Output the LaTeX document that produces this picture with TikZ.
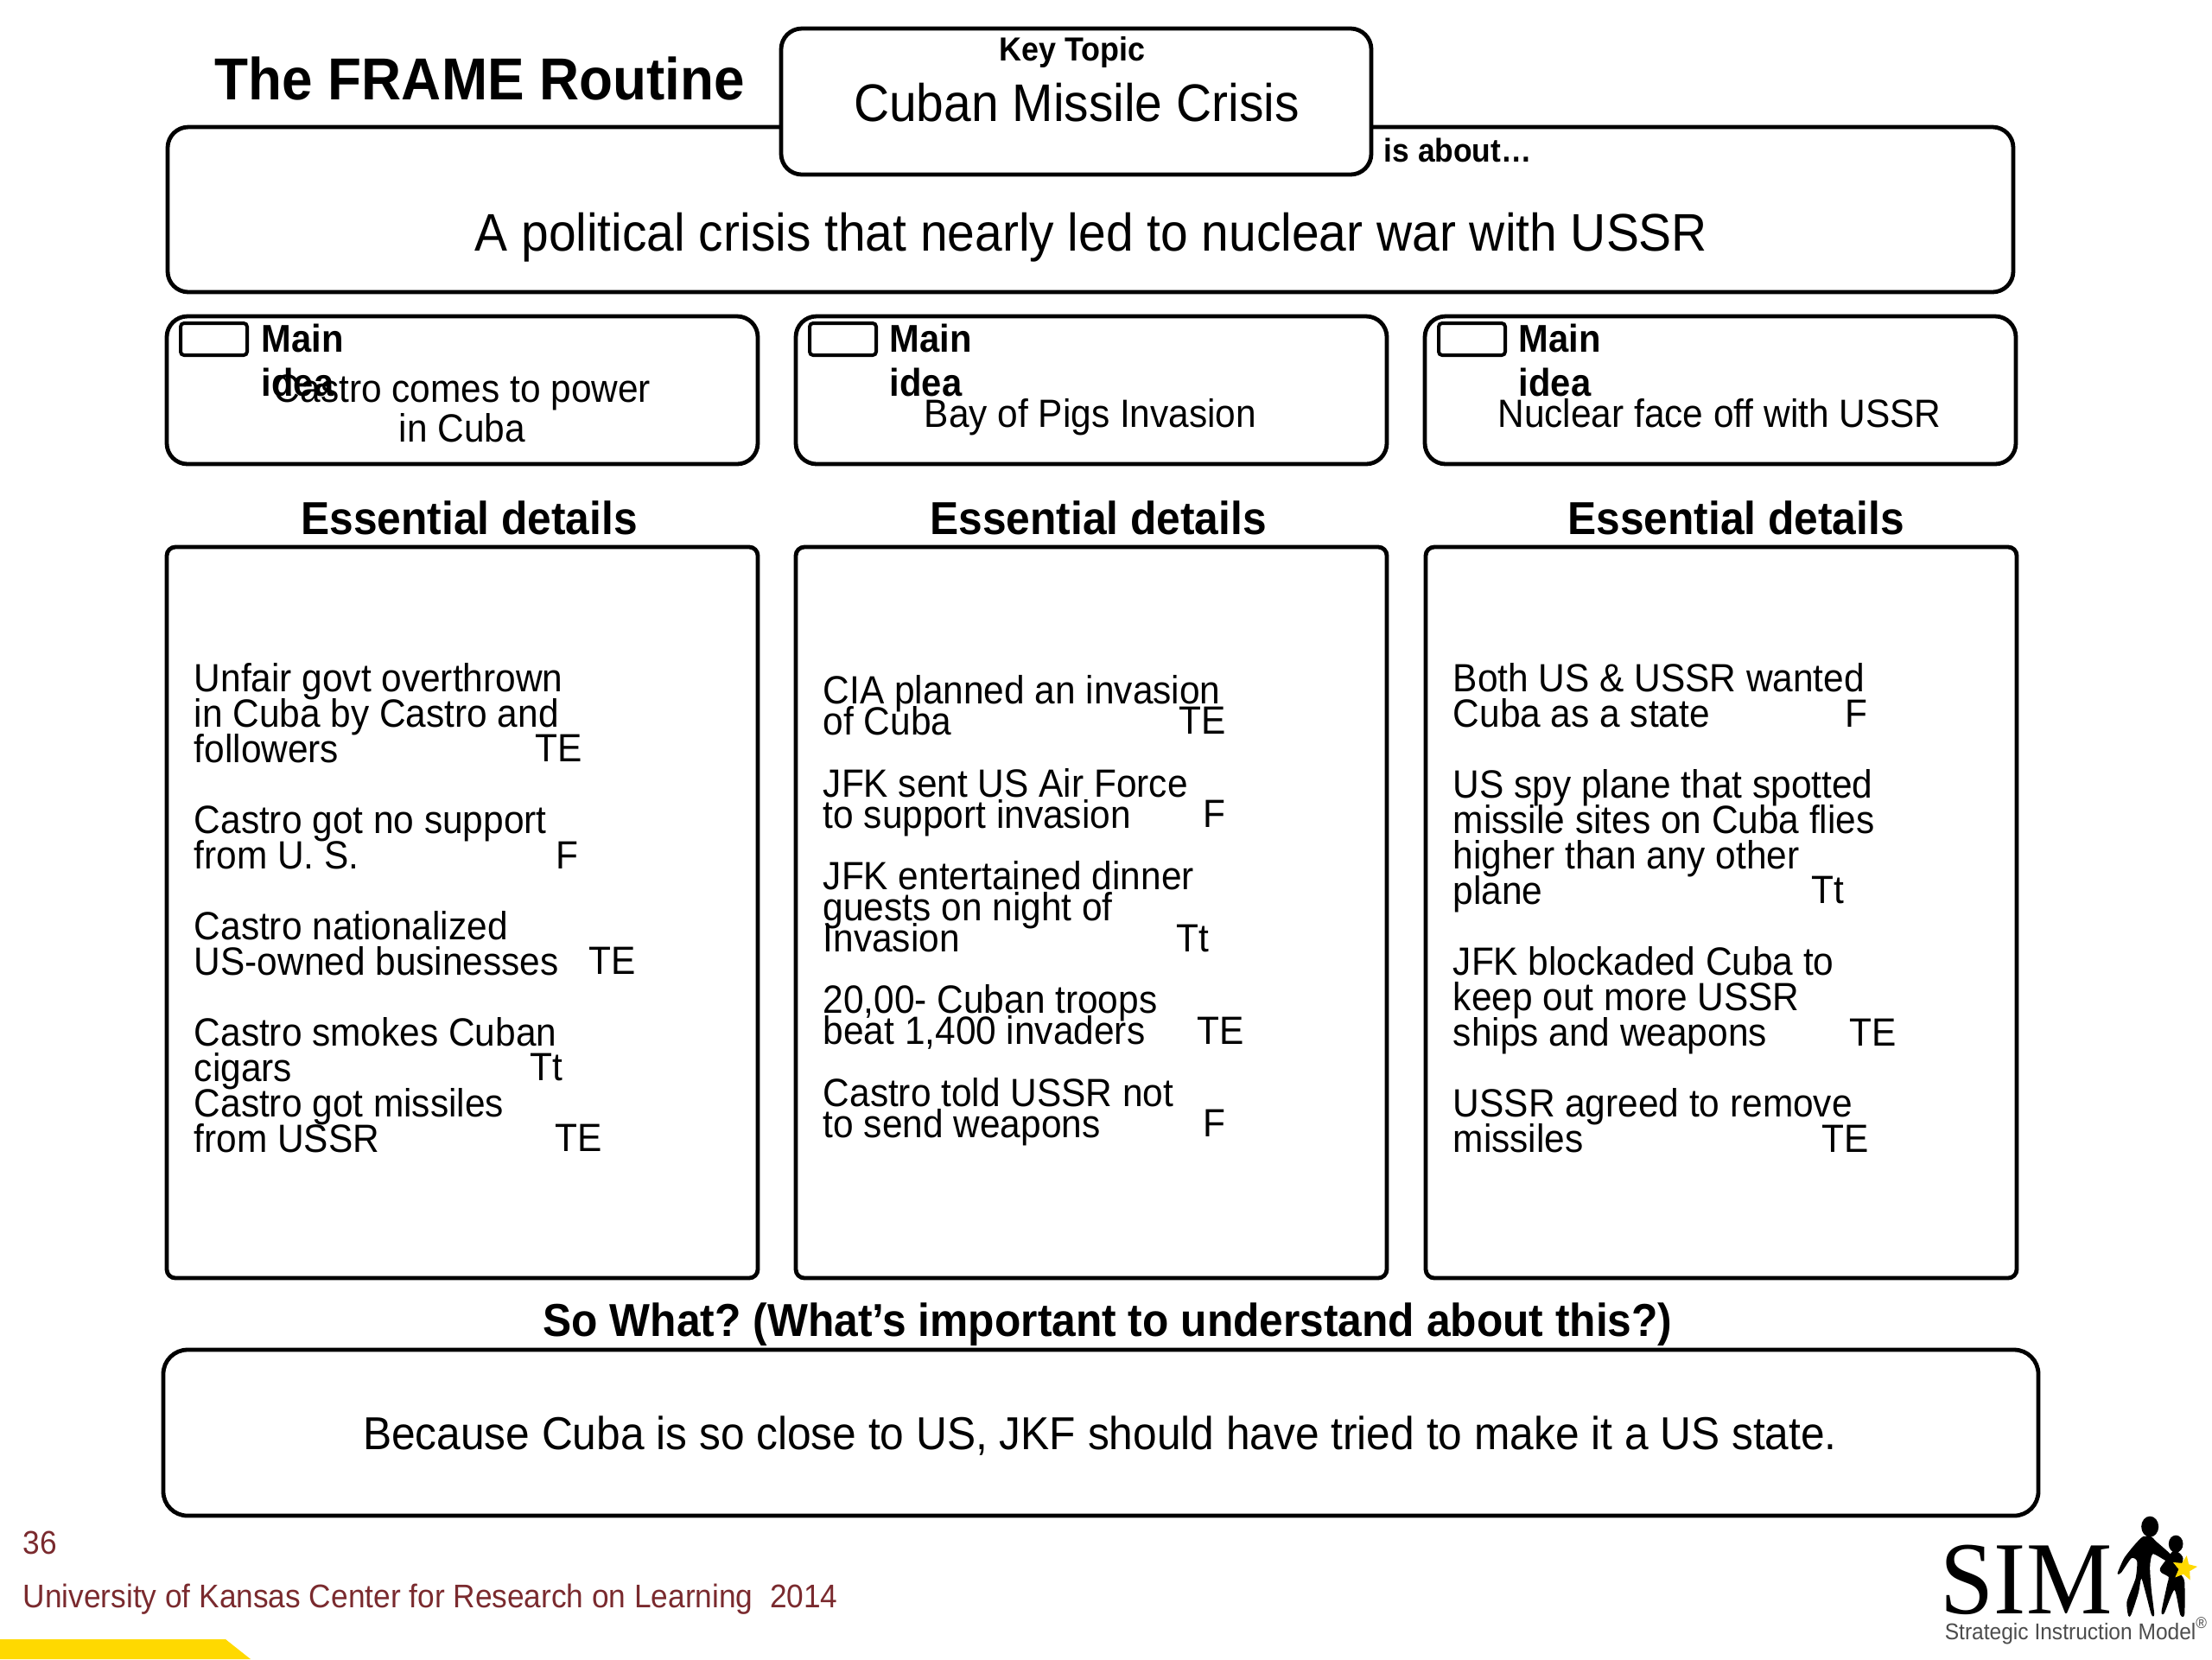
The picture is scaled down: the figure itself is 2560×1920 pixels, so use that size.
\documentclass[tikz,border=0pt]{standalone}
\usepackage{fontspec}
\setmainfont{Liberation Sans}[FakeStretch=0.93]
\newfontfamily\logofont{Liberation Serif}[FakeStretch=0.93]
\usepackage{xcolor}
\usetikzlibrary{positioning,shapes.geometric}
\definecolor{footred}{HTML}{7A2A2E}
\definecolor{slideyellow}{HTML}{FFD900}
\newcommand{\detailfont}[1]{\fontsize{11.4}{#1}\selectfont\lineskiplimit=-20pt\relax}

\begin{document}
\frenchspacing
\begin{tikzpicture}[
  x=0.25pt, y=-0.25pt,
  box/.style={draw=black, line width=1.2pt, fill=white, outer sep=0pt, inner sep=0pt},
  mainbox/.style={box, rounded corners=6pt, minimum width=171pt, minimum height=42.75pt},
  detailbox/.style={box, rounded corners=2.5pt, minimum width=171pt, minimum height=211.5pt},
  check/.style={box, rounded corners=1pt, minimum width=19.25pt, minimum height=9.25pt, line width=1pt},
  head/.style={font=\fontsize{13.36}{15}\selectfont\bfseries, inner sep=0pt},
  maintext/.style={font=\fontsize{11.4}{11.5}\selectfont, align=center, inner sep=0pt},
  mainlabel/.style={font=\fontsize{11.2}{12.75}\selectfont\bfseries, align=left, inner sep=0pt, anchor=north west},
  detail/.style={align=left, inner sep=0pt, anchor=north west},
  grade/.style={font=\fontsize{11.4}{14}\selectfont, inner sep=0pt, anchor=west},
  foot/.style={font=\fontsize{9.48}{11}\selectfont, text=footred, inner sep=0pt, anchor=west}
]
\useasboundingbox (0,0) rectangle (2560,1920);

% top
\node[box, rounded corners=6pt, anchor=north west, minimum width=534pt, minimum height=47.75pt] (about) at (194,147) {};
\node[box, rounded corners=6pt, anchor=north west, minimum width=170.75pt, minimum height=42.25pt] (topic) at (904,33) {};
\node[font=\fontsize{17.15}{20}\selectfont\bfseries, inner sep=0pt, anchor=west] (title) at (248,91) {The FRAME Routine};
\node[font=\fontsize{9.65}{11}\selectfont\bfseries, inner sep=0pt] (keylabel) at (1241,61) {Key Topic};
\node[font=\fontsize{15.3}{16}\selectfont, inner sep=0pt] (topictext) at (1246,119) {Cuban Missile Crisis};
\node[font=\fontsize{9.5}{11}\selectfont\bfseries, inner sep=0pt, anchor=west] (isabout) at (1601,174) {is about\ldots};
\node[font=\fontsize{15.3}{16}\selectfont, inner sep=0pt] (abouttext) at (1263,275) {A political crisis that nearly led to nuclear war with USSR};

% main ideas
\node[mainbox, anchor=north west] (main1) at (193,366) {};
\node[mainbox, right=11pt of main1] (main2) {};
\node[mainbox, right=11pt of main2] (main3) {};
\node[check, anchor=north west] (check1) at (209,374) {};
\node[check, anchor=north west] (check2) at (937,374) {};
\node[check, anchor=north west] (check3) at (1665,374) {};
\node[mainlabel] (label1) at (302,374) {Main\\idea};
\node[mainlabel] (label2) at (1029,374) {Main\\idea};
\node[mainlabel] (label3) at (1757,374) {Main\\idea};
\node[maintext] (idea1) at (535,473) {Castro comes to power\\in Cuba};
\node[maintext] (idea2) at (1262,483) {Bay of Pigs Invasion};
\node[maintext] (idea3) at (1990,478) {Nuclear face off with USSR};

% essential details
\node[detailbox, below=24pt of main1] (detail1) {};
\node[detailbox, right=11pt of detail1] (detail2) {};
\node[detailbox, right=11.25pt of detail2] (detail3) {};
\node[head] (head1) at (543,599) {Essential details};
\node[head] (head2) at (1271,599) {Essential details};
\node[head] (head3) at (2009,599) {Essential details};

\node[detail, font=\detailfont{10.25pt}] (text1) at (224,767) {Unfair govt overthrown\\in Cuba by Castro and\\followers\\[10.25pt]Castro got no support\\from U. S.\\[10.25pt]Castro nationalized\\US-owned businesses\\[10.25pt]Castro smokes Cuban\\cigars\\Castro got missiles\\from USSR};
\node[detail, font=\detailfont{8.95pt}] (text2) at (952,781) {CIA planned an invasion\\of Cuba\\[8.95pt]JFK sent US Air Force\\to support invasion\\[8.95pt]JFK entertained dinner\\guests on night of\\Invasion\\[8.95pt]20,00- Cuban troops\\beat 1,400 invaders\\[8.95pt]Castro told USSR not\\to send weapons};
\node[detail, font=\detailfont{10.25pt}] (text3) at (1681,767) {Both US \& USSR wanted\\Cuba as a state\\[10.25pt]US spy plane that spotted\\missile sites on Cuba flies\\higher than any other\\plane\\[10.25pt]JFK blockaded Cuba to\\keep out more USSR\\ships and weapons\\[10.25pt]USSR agreed to remove\\missiles};

\node[grade] (g11) at (619,866) {TE};
\node[grade] (g12) at (643,990) {F};
\node[grade] (g13) at (681,1112) {TE};
\node[grade] (g14) at (613,1235) {Tt};
\node[grade] (g15) at (642,1317) {TE};
\node[grade] (g21) at (1364,834) {TE};
\node[grade] (g22) at (1392,942) {F};
\node[grade] (g23) at (1361,1086) {Tt};
\node[grade] (g24) at (1385,1193) {TE};
\node[grade] (g25) at (1392,1300) {F};
\node[grade] (g31) at (2135,826) {F};
\node[grade] (g32) at (2096,1030) {Tt};
\node[grade] (g33) at (2140,1195) {TE};
\node[grade] (g34) at (2108,1318) {TE};

% so what
\node[head] (sowhat) at (1282,1533) {So What? (What’s important to understand about this?)};
\node[box, rounded corners=7pt, anchor=north west, minimum width=542.5pt, minimum height=48pt] (because) at (189,1562) {};
\node[font=\fontsize{13.35}{14}\selectfont, inner sep=0pt] (becausetext) at (1273,1662) {Because Cuba is so close to US, JKF should have tried to make it a US state.};

% footer
\node[foot] (pagenum) at (26,1785) {36};
\node[foot] (credit) at (26,1851) {University of Kansas Center for Research on Learning\ \ 2014};
\fill[slideyellow] (0,1897) -- (261,1897) -- (290,1920) -- (0,1920) -- cycle;

% logo
\node[font=\fontsize{30}{32}\logofont\selectfont, inner sep=0pt, anchor=base west] (simtext) at (2245,1867) {SIM};
\node[font=\fontsize{6.6}{7}\selectfont, text=black!70, inner sep=0pt, anchor=base west] (simname) at (2250,1897) {Strategic Instruction Model\textsuperscript{®}};
\begin{scope}[shift={(2100,1720)}, x=0.0833pt, y=-0.0833pt]
  \fill (1165,140) ellipse [x radius=30, y radius=36];
  \fill plot[smooth cycle, tension=0.4] coordinates {(1140,175) (1110,205) (1075,250) (1052,303) (1065,300) (1100,250) (1120,260) (1115,320) (1085,400) (1090,450) (1100,445) (1125,370) (1135,320) (1150,370) (1170,445) (1180,445) (1170,360) (1165,280) (1175,235) (1225,260) (1240,240) (1185,190) (1170,175)};
  \fill (1255,200) ellipse [x radius=25, y radius=30];
  \fill plot[smooth cycle, tension=0.4] coordinates {(1245,225) (1225,250) (1200,285) (1205,300) (1230,315) (1225,340) (1205,435) (1215,440) (1250,360) (1270,445) (1285,445) (1285,330) (1270,300) (1280,250) (1265,230)};
  \node[star, star points=5, star point ratio=2.2, fill=slideyellow, inner sep=0pt, minimum size=7.5pt, rotate=-10] (simstar) at (1285,285) {};
\end{scope}
\end{tikzpicture}
\end{document}
